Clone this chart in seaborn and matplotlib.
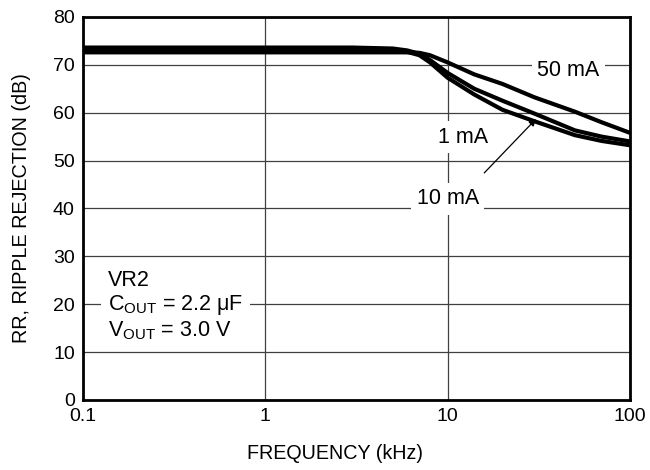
import seaborn as sns
import matplotlib.pyplot as plt
import pandas as pd
import matplotlib.ticker as mticker

# frequency points (kHz) and ripple rejection (dB)
freq = [0.1, 1, 3, 5, 6, 7, 8, 10, 14, 20, 30, 50, 70, 100]
rr_50ma = [72.6, 72.6, 72.6, 72.6, 72.6, 72.5, 72.0, 70.5, 68.0, 66.0, 63.2, 60.2, 58.0, 55.8]
rr_1ma = [73.6, 73.6, 73.6, 73.4, 73.0, 72.3, 71.0, 68.3, 65.0, 62.5, 59.8, 56.3, 55.0, 54.0]
rr_10ma = [73.1, 73.1, 73.1, 73.0, 72.7, 72.0, 70.5, 67.3, 63.8, 60.6, 58.2, 55.3, 54.1, 53.2]

x_ticks = [0.1, 1, 10, 100]
x_tick_labels = ["0.1", "1", "10", "100"]
y_ticks = list(range(0, 90, 10))

df = pd.concat([
    pd.DataFrame({"freq": freq, "rr": rr_50ma, "load": "50 mA"}),
    pd.DataFrame({"freq": freq, "rr": rr_1ma, "load": "1 mA"}),
    pd.DataFrame({"freq": freq, "rr": rr_10ma, "load": "10 mA"}),
])

sns.set_theme(style="white")
plt.rcParams["font.family"] = ["Liberation Sans", "DejaVu Sans"]
plt.rcParams["text.color"] = "black"

fig = plt.figure(figsize=(6.5, 4.7), dpi=100)
ax = fig.add_axes([0.128, 0.149, 0.841, 0.815])

sns.lineplot(data=df, x="freq", y="rr", hue="load", estimator=None, sort=False,
             palette=["black", "black", "black"], linewidth=3.0, legend=False, ax=ax)

ax.set_xscale("log")
ax.set_xlim(0.1, 100)
ax.set_ylim(0, 80)
ax.set_xticks(x_ticks)
ax.set_xticklabels(x_tick_labels)
ax.xaxis.set_minor_locator(mticker.NullLocator())
ax.set_yticks(y_ticks)
ax.tick_params(axis="both", length=0, labelsize=14, colors="black", pad=6)

ax.grid(True, which="major", color="0.25", linewidth=0.9)
ax.set_axisbelow(True)
for sp in ax.spines.values():
    sp.set_color("black")
    sp.set_linewidth(2.0)

ax.set_xlabel("FREQUENCY (kHz)", fontsize=14.2, color="black")
ax.xaxis.set_label_coords(0.461, -0.115)
ax.set_ylabel("RR, RIPPLE REJECTION (dB)", fontsize=14.2, color="black", labelpad=16)

box = dict(facecolor="white", edgecolor="none", pad=4)
ax.text(46, 68.9, "50 mA", fontsize=15.5, ha="center", va="center", bbox=box, zorder=5)
ax.text(12.1, 54.9, "1 mA", fontsize=15.5, ha="center", va="center", bbox=box, zorder=5)
ax.text(10, 42.0, "10 mA", fontsize=15.5, ha="center", va="center", bbox=box, zorder=5)

ax.annotate("", xy=(31.3, 59.1), xytext=(15.5, 47.0),
            arrowprops=dict(arrowstyle="-|>", color="black", lw=0.9, mutation_scale=10),
            zorder=6)

ax.text(0.137, 19.6,
        "VR2\n$\\mathregular{C_{OUT}}$ = 2.2 \u03bcF\n$\\mathregular{V_{OUT}}$ = 3.0 V",
        fontsize=15.5, ha="left", va="center", linespacing=1.15,
        bbox=dict(facecolor="white", edgecolor="none", pad=5), zorder=5)

fig.savefig("out.png", dpi=100)
